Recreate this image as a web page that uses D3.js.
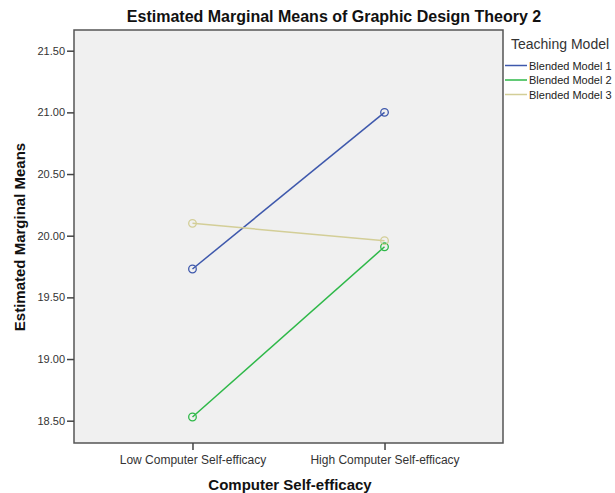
<!DOCTYPE html>
<html>
<head>
<meta charset="utf-8">
<script src="https://cdn.jsdelivr.net/npm/d3@7"></script>
<style>
  body { margin: 0; background: #fff; }
  text { font-family: Arial, "Liberation Sans", sans-serif; }
</style>
</head>
<body>
<svg id="chart" width="615" height="493"></svg>
<script>
const width = 615
const height = 493

const categories = ['Low Computer Self-efficacy', 'High Computer Self-efficacy']
const seriesNames = ['Blended Model 1', 'Blended Model 2', 'Blended Model 3']
const model1 = [19.73, 21.00]
const model2 = [18.53, 19.91]
const model3 = [20.10, 19.96]
const yTicks = [18.5, 19.0, 19.5, 20.0, 20.5, 21.0, 21.5]
const colors = ['#3e58ac', '#2eb848', '#d3ce97']

const series = [model1, model2, model3]

const box = { left: 74, right: 503, top: 30, bottom: 443 }

const svg = d3.select('#chart')

const xScale = d3.scalePoint()
  .domain(categories)
  .range([box.left, box.right])
  .padding(0.617)

const yScale = d3.scaleLinear()
  .domain([18.5, 21.5])
  .range([420.7, 50.7])

// plot background
svg.append('rect')
  .attr('x', box.left)
  .attr('y', box.top)
  .attr('width', box.right - box.left)
  .attr('height', box.bottom - box.top)
  .style('fill', '#f0f0f0')
  .style('stroke', '#555')
  .style('stroke-width', 1.5)

// Title
svg.append('text')
  .text('Estimated Marginal Means of Graphic Design Theory 2')
  .attr('x', 334)
  .attr('y', 22)
  .style('text-anchor', 'middle')
  .style('font-size', '16px')
  .style('font-weight', 'bold')
  .style('fill', '#111')

// y-axis
const yAxis = d3.axisLeft(yScale)
  .tickValues(yTicks)
  .tickFormat(d3.format('.2f'))
  .tickSize(7)
  .tickPadding(2)

const yG = svg.append('g')
  .attr('transform', `translate(${box.left}, 0)`)
  .call(yAxis)
yG.select('.domain').remove()
yG.selectAll('line').style('stroke', '#444').style('stroke-width', 1.5)
yG.selectAll('text').style('font-size', '11px').style('fill', '#333')
  .style('font-family', 'Arial, "Liberation Sans", sans-serif')

// x-axis
const xAxis = d3.axisBottom(xScale)
  .tickSize(7)
  .tickPadding(5)

const xG = svg.append('g')
  .attr('transform', `translate(0, ${box.bottom})`)
  .call(xAxis)
xG.select('.domain').remove()
xG.selectAll('line').style('stroke', '#444').style('stroke-width', 1.5)
xG.selectAll('text').style('font-size', '12px').style('fill', '#333')
  .style('font-family', 'Arial, "Liberation Sans", sans-serif')

// axis titles
svg.append('text')
  .text('Estimated Marginal Means')
  .attr('transform', 'translate(25, 237) rotate(-90)')
  .style('text-anchor', 'middle')
  .style('font-size', '15px')
  .style('font-weight', 'bold')
  .style('fill', '#111')

svg.append('text')
  .text('Computer Self-efficacy')
  .attr('x', 290)
  .attr('y', 490)
  .style('text-anchor', 'middle')
  .style('font-size', '15px')
  .style('font-weight', 'bold')
  .style('fill', '#111')

// lines and markers
const line = d3.line()
  .x((d, i) => xScale(categories[i]))
  .y(d => yScale(d))

const groups = svg.selectAll('.series')
  .data(series)
  .enter()
  .append('g')
  .attr('class', 'series')

groups.append('path')
  .attr('d', d => line(d))
  .style('fill', 'none')
  .style('stroke', (d, i) => colors[i])
  .style('stroke-width', 1.5)

groups.selectAll('circle')
  .data((d, i) => d.map((v, j) => ({ v, j, c: colors[i] })))
  .enter()
  .append('circle')
  .attr('cx', d => xScale(categories[d.j]))
  .attr('cy', d => yScale(d.v))
  .attr('r', 3.8)
  .style('fill', 'none')
  .style('stroke', d => d.c)
  .style('stroke-width', 1.3)

// Legend
svg.append('text')
  .text('Teaching Model')
  .attr('x', 511)
  .attr('y', 49)
  .style('font-size', '14px')
  .style('fill', '#333')

const legend = svg.selectAll('.legend')
  .data(seriesNames)
  .enter()
  .append('g')
  .attr('class', 'legend')
  .attr('transform', (d, i) => `translate(505, ${65.5 + i * 14.5})`)

legend.append('line')
  .attr('x1', 0)
  .attr('x2', 22)
  .style('stroke', (d, i) => colors[i])
  .style('stroke-width', 1.5)

legend.append('text')
  .text(d => d)
  .attr('x', 24)
  .attr('y', 4)
  .style('font-size', '11px')
  .style('fill', '#222')
</script>
</body>
</html>
